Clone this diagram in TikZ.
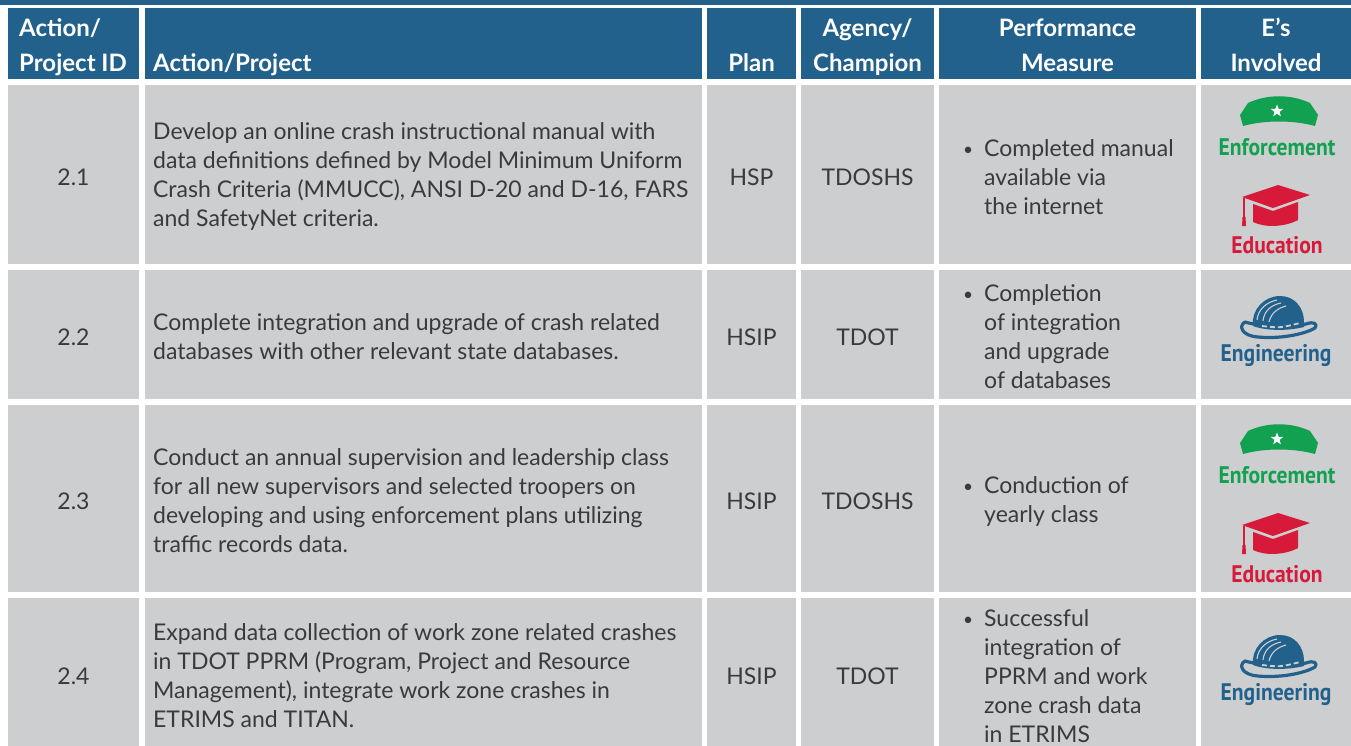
\documentclass[tikz,border=0pt]{standalone}
\usepackage{fontspec}
\setmainfont{Lato}
\newfontfamily\hdrfont{Lato}
\newfontfamily\bodyfont{Lato}
\newfontfamily\iconfont{PT Sans}
\usetikzlibrary{shapes.geometric}
\definecolor{hdrblue}{HTML}{22618C}
\definecolor{cellgray}{HTML}{CDCED0}
\definecolor{txt}{HTML}{3A3A3A}
\definecolor{enfgreen}{HTML}{12A150}
\definecolor{edured}{HTML}{D71A3A}
\definecolor{engblue}{HTML}{22618C}
\newcommand{\blt}{\makebox[21pt][l]{\raisebox{1pt}{\scalebox{0.75}{•}}}}
\newcommand{\ind}{\hspace*{21pt}}
\tikzset{
  cell/.style={fill=cellgray},
  hcell/.style={fill=hdrblue},
  hdr/.style={font=\hdrfont\bfseries\fontsize{24}{35}\selectfont, text=white, align=center, inner sep=0pt},
  hdrl/.style={hdr, align=left},
  body/.style={font=\bodyfont\fontsize{23}{29}\selectfont, text=txt, align=left, inner sep=0pt},
  cbody/.style={body, align=center},
  iconlbl/.style={font=\iconfont\bfseries\fontsize{24}{26}\selectfont, inner sep=0pt},
  enfhat/.pic={
    \fill[enfgreen] (-31,-7) .. controls (-12,-16) and (12,-16) .. (31,-7) -- (39,5) -- (36,16) .. controls (14,10) and (-14,10) .. (-36,16) -- (-39,5) -- cycle;
    \node[star, star points=5, star point ratio=2.4, fill=white, minimum size=13pt, inner sep=0pt] at (-2,1) {};
  },
  educap/.pic={
    \fill[edured] (-35,-8) -- (1,-20) -- (33,-10) -- (-4,3) -- cycle;
    \fill[edured] (-24,-1) -- (-4,6) -- (21,-3) -- (21,15) .. controls (8,22) and (-12,23) .. (-24,17) -- cycle;
    \draw[edured, line width=1.6pt] (-33,-7) -- (-33,13);
    \fill[edured] (-34.5,12) -- (-31.5,12) -- (-31,21) -- (-35,21) -- cycle;
  },
  enghat/.pic={
    \draw[engblue, line width=3.2pt, fill=cellgray, line join=round] (-33,4) .. controls (-40,8) and (-36,18) .. (-20,19) .. controls (0,21) and (25,17) .. (37,10) .. controls (40,6) and (36,3) .. (28,6) .. controls (10,10) and (-20,8) .. (-33,4) -- cycle;
    \fill[engblue] (-25,8) .. controls (-27,-8) and (-14,-22) .. (2,-22) .. controls (17,-22) and (26,-10) .. (26,4) -- (26,9) .. controls (10,13) and (-12,13) .. (-25,8) -- cycle;
    \draw[cellgray, line width=1.1pt] (-21,2) .. controls (-20,-9) and (-11,-16) .. (-1,-18);
    \draw[cellgray, line width=1.1pt] (-15,3) .. controls (-14,-7) and (-7,-13) .. (3,-15);
    \draw[cellgray, line width=1.1pt] (-9,4) .. controls (-7,-5) and (0,-10) .. (8,-12);
    \draw[cellgray, line width=1.8pt, dash pattern=on 5pt off 3pt] (-16,8) .. controls (2,10) .. (22,5);
  }
}
\begin{document}
\begin{tikzpicture}[x=1pt,y=-1pt]
\useasboundingbox (0,0) rectangle (1351,746);
\fill[white] (0,0) rectangle (1351,746);
\fill[hdrblue] (0,0) rectangle (1351,5);
% header and body cells
\foreach \a/\b in {8/139,145/702,707/796,801/934,939/1196,1201/1351}{
  \fill[hcell] (\a,8) rectangle (\b,79);
  \fill[cell] (\a,85) rectangle (\b,264);
  \fill[cell] (\a,270) rectangle (\b,399);
  \fill[cell] (\a,405) rectangle (\b,592);
  \fill[cell] (\a,598) rectangle (\b,746);
}
% header text
\node[hdrl, anchor=base west] (h1) at (19,72) {Action/\\Project ID};
\node[hdrl, anchor=base west] (h2) at (153,72) {Action/Project};
\node[hdr, anchor=base] (h3) at (751.5,72) {Plan};
\node[hdr, anchor=base] (h4) at (867.5,72) {Agency/\\Champion};
\node[hdr, anchor=base] (h5) at (1067.5,72) {Performance\\Measure};
\node[hdr, anchor=base] (h6) at (1276,72) {E’s\\Involved};
% row 1
\node[cbody] (id1) at (73.5,177) {2.1};
\node[body, anchor=west] (ap1) at (153,177) {Develop an online crash instructional manual with\\data definitions defined by Model Minimum Uniform\\Crash Criteria (MMUCC), ANSI D-20 and D-16, FARS\\and SafetyNet criteria.};
\node[cbody] (pl1) at (751.5,177) {HSP};
\node[cbody] (ag1) at (867.5,177) {TDOSHS};
\node[body, anchor=west] (pm1) at (963,177) {\blt Completed manual\\\ind available via\\\ind the internet};
\pic at (1279,110) {enfhat};
\node[iconlbl, text=enfgreen] (e1) at (1277,147) {\scalebox{0.9}[1]{Enforcement}};
\pic at (1277,205) {educap};
\node[iconlbl, text=edured] (d1) at (1277,245) {\scalebox{0.9}[1]{Education}};
% row 2
\node[cbody] (id2) at (73.5,337) {2.2};
\node[body, anchor=west] (ap2) at (153,337) {Complete integration and upgrade of crash related\\databases with other relevant state databases.};
\node[cbody] (pl2) at (751.5,337) {HSIP};
\node[cbody] (ag2) at (867.5,337) {TDOT};
\node[body, anchor=west] (pm2) at (963,337) {\blt Completion\\\ind of integration\\\ind and upgrade\\\ind of databases};
\pic at (1278,318) {enghat};
\node[iconlbl, text=engblue] (g2) at (1276,356) {\scalebox{0.9}[1]{Engineering}};
% row 3
\node[cbody] (id3) at (73.5,501) {2.3};
\node[body, anchor=west] (ap3) at (153,501) {Conduct an annual supervision and leadership class\\for all new supervisors and selected troopers on\\developing and using enforcement plans utilizing\\traffic records data.};
\node[cbody] (pl3) at (751.5,501) {HSIP};
\node[cbody] (ag3) at (867.5,501) {TDOSHS};
\node[body, anchor=west] (pm3) at (963,501) {\blt Conduction of\\\ind yearly class};
\pic at (1279,438) {enfhat};
\node[iconlbl, text=enfgreen] (e3) at (1277,475) {\scalebox{0.9}[1]{Enforcement}};
\pic at (1277,533) {educap};
\node[iconlbl, text=edured] (d3) at (1277,574) {\scalebox{0.9}[1]{Education}};
% row 4
\node[cbody] (id4) at (73.5,676) {2.4};
\node[body, anchor=west] (ap4) at (153,676) {Expand data collection of work zone related crashes\\in TDOT PPRM (Program, Project and Resource\\Management), integrate work zone crashes in\\ETRIMS and TITAN.};
\node[cbody] (pl4) at (751.5,676) {HSIP};
\node[cbody] (ag4) at (867.5,676) {TDOT};
\node[body, anchor=west] (pm4) at (963,676) {\blt Successful\\\ind integration of\\\ind PPRM and work\\\ind zone crash data\\\ind in ETRIMS};
\pic at (1278,657) {enghat};
\node[iconlbl, text=engblue] (g4) at (1276,695) {\scalebox{0.9}[1]{Engineering}};
\end{tikzpicture}
\end{document}
